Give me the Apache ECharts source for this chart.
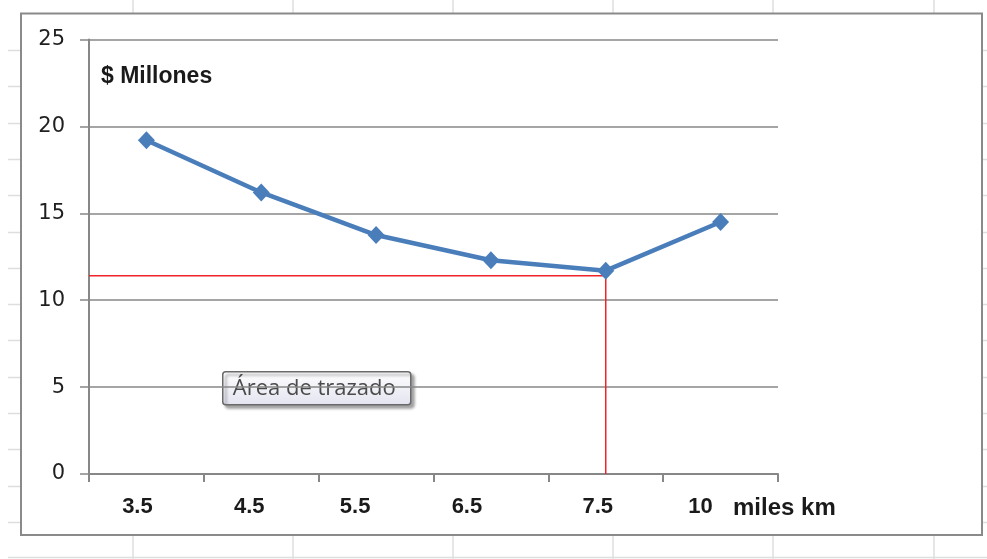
<!DOCTYPE html>
<html>
<head>
<meta charset="utf-8">
<script src="https://cdn.jsdelivr.net/npm/echarts@6/dist/echarts.min.js"></script>
<style>
  html, body { margin: 0; padding: 0; background: #ffffff; }
  #chart { width: 987px; height: 559px; }
</style>
</head>
<body>
<div id="chart"></div>
<script>
// Costo (millones de $) según la distancia en miles de km
const distancias = ['3.5', '4.5', '5.5', '6.5', '7.5', '10'];
const costos = [19.2, 16.2, 13.75, 12.3, 11.7, 14.5];
const costoReferencia = 11.4;   // nivel marcado en rojo
const indiceReferencia = 4;     // categoría "7.5"
const yTicks = { min: 0, max: 25, interval: 5 };
const tituloY = '$ Millones';
const tituloX = 'miles km';
const notaArea = 'Área de trazado';

// desplazamiento horizontal de cada rótulo de categoría (px hacia la izquierda)
const corrimientoRotulo = [9, 12, 21, 24, 8, 20];

const chart = echarts.init(document.getElementById('chart'), null, { renderer: 'canvas' });

const GRID = { left: 89, right: 209, top: 39.5, bottom: 85 };
const AXIS_GRAY = '#878787';
const SHEET_GRAY = '#dcdedf';

// cuadrícula de la hoja de cálculo que rodea al gráfico
const hoja = [];
const columnas = [133, 293, 453, 613, 773, 934];
columnas.forEach(x => {
  hoja.push({ type: 'line', shape: { x1: x, y1: 0, x2: x, y2: 13 }, style: { stroke: SHEET_GRAY, lineWidth: 1.5 }, silent: true, z: 0 });
  hoja.push({ type: 'line', shape: { x1: x, y1: 536, x2: x, y2: 559 }, style: { stroke: SHEET_GRAY, lineWidth: 1.5 }, silent: true, z: 0 });
});
for (let k = 0; k <= 13; k++) {
  const y = Math.round(50 + 36.3 * k) + 0.5;
  hoja.push({ type: 'line', shape: { x1: 8, y1: y, x2: 20, y2: y }, style: { stroke: SHEET_GRAY, lineWidth: 1.5 }, silent: true, z: 0 });
  hoja.push({ type: 'line', shape: { x1: 983, y1: y, x2: 987, y2: y }, style: { stroke: SHEET_GRAY, lineWidth: 1.5 }, silent: true, z: 0 });
}
hoja.push({ type: 'line', shape: { x1: 8, y1: 557.5, x2: 987, y2: 557.5 }, style: { stroke: SHEET_GRAY, lineWidth: 1.5 }, silent: true, z: 0 });

const richRotulos = {};
corrimientoRotulo.forEach((d, i) => {
  richRotulos['c' + i] = {
    fontFamily: '"Liberation Sans", Arial, sans-serif',
    fontWeight: 'bold', fontSize: 22, color: '#1a1a1a',
    padding: [0, d * 2, 0, 0]
  };
});

const option = {
  animation: false,
  backgroundColor: '#ffffff',
  grid: GRID,
  xAxis: [{
    type: 'category',
    data: distancias,
    boundaryGap: true,
    axisLine: { show: true, onZero: false, lineStyle: { color: AXIS_GRAY, width: 2 } },
    axisTick: { show: true, alignWithLabel: false, length: 8, lineStyle: { color: AXIS_GRAY, width: 2 } },
    axisLabel: {
      margin: 22,
      formatter: (v, i) => '{c' + i + '|' + v + '}',
      rich: richRotulos
    },
    splitLine: { show: false }
  }, {
    // eje auxiliar continuo para las líneas de referencia
    type: 'value',
    min: -0.5,
    max: distancias.length - 0.5,
    show: false
  }],
  yAxis: {
    type: 'value',
    min: yTicks.min,
    max: yTicks.max,
    interval: yTicks.interval,
    axisLine: { show: true, onZero: false, lineStyle: { color: AXIS_GRAY, width: 2 } },
    axisTick: { show: true, inside: false, length: 9, lineStyle: { color: AXIS_GRAY, width: 1.5 } },
    axisLabel: {
      margin: 24,
      fontFamily: '"DejaVu Sans", Verdana, sans-serif',
      fontSize: 21,
      color: '#1f1f1f'
    },
    splitLine: { show: true, lineStyle: { color: AXIS_GRAY, width: 1.5 } }
  },
  series: [{
    name: 'referencia',
    type: 'line',
    xAxisIndex: 1,
    data: [[-0.5, costoReferencia], [indiceReferencia, costoReferencia], [indiceReferencia, yTicks.min]],
    symbol: 'none',
    lineStyle: { color: '#f0222a', width: 1.5 },
    z: 3,
    silent: true
  }, {
    name: 'costo',
    type: 'line',
    data: costos,
    symbol: 'diamond',
    symbolSize: [17, 18],
    itemStyle: { color: '#4a7ebb' },
    lineStyle: { color: '#4a7ebb', width: 4.5 },
    z: 5
  }],
  graphic: hoja.concat([
    {
      type: 'rect',
      shape: { x: 21, y: 13.5, width: 961, height: 521.5 },
      style: { fill: null, stroke: '#8a8a8a', lineWidth: 2 },
      silent: true, z: 1
    },
    {
      type: 'text',
      left: 101, top: 65,
      style: {
        text: tituloY,
        font: 'bold 23px "Liberation Sans", Arial, sans-serif',
        fill: '#1a1a1a'
      },
      z: 10
    },
    {
      type: 'text',
      left: 733, top: 496,
      style: {
        text: tituloX,
        font: 'bold 24px "Liberation Sans", Arial, sans-serif',
        fill: '#1a1a1a'
      },
      z: 10
    },
    {
      type: 'group',
      left: 222, top: 371,
      z: 20,
      children: [
        {
          type: 'rect',
          shape: { x: 0, y: 0, width: 188, height: 33, r: 3 },
          style: {
            fill: new echarts.graphic.LinearGradient(0, 0, 0, 1, [
              { offset: 0, color: '#ffffff' },
              { offset: 1, color: '#e2e3ef' }
            ]),
            stroke: '#6a6a6a',
            lineWidth: 1.5,
            shadowColor: 'rgba(0,0,0,0.35)',
            shadowBlur: 3,
            shadowOffsetX: 3,
            shadowOffsetY: 3
          }
        },
        {
          type: 'text',
          x: 10, y: 17,
          style: {
            text: notaArea,
            font: '22px "Open Sans", "Noto Sans", sans-serif',
            fill: '#4a4a4a',
            verticalAlign: 'middle'
          }
        }
      ]
    }
  ])
};

chart.setOption(option);
</script>
</body>
</html>
